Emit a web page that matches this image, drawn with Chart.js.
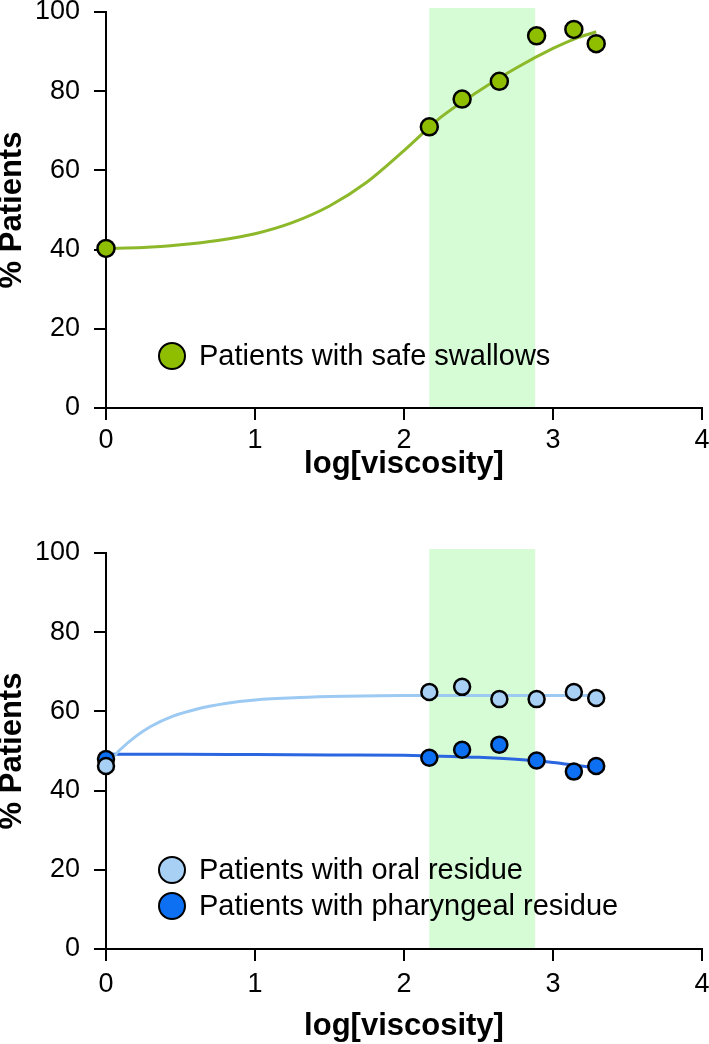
<!DOCTYPE html>
<html lang="en">
<head>
    <meta charset="UTF-8">
    <title>Safe swallows and residue vs viscosity</title>
    <script src="https://cdn.jsdelivr.net/npm/chart.js"></script>
    <style>
        body { margin: 0; background: #fff; }
        .chart-box { position: absolute; left: 0; width: 709px; }
        #top { top: 0; height: 500px; }
        #bottom { top: 500px; height: 544px; }
    </style>
</head>
<body>
    <div class="chart-box" id="top"><canvas id="safeChart" width="709" height="500"></canvas></div>
    <div class="chart-box" id="bottom"><canvas id="residueChart" width="709" height="544"></canvas></div>

    <script>
        // measured viscosities (log) shared by both panels
        const viscosity = [0, 2.17, 2.39, 2.64, 2.89, 3.14, 3.29];

        // top panel
        const safeSwallows = [40.3, 71, 78, 82.5, 94, 95.6, 92];
        const safeCurveX = [0, 0.25, 0.5, 0.75, 1, 1.25, 1.5, 1.75, 2, 2.25, 2.5, 2.75, 3, 3.15, 3.29];
        const safeCurveY = [40.3, 40.5, 41.2, 42.3, 44, 46.8, 51, 57, 65, 73.5, 80, 85.8, 90.8, 93.3, 95];

        // bottom panel
        const oralResidue = [46.2, 64.9, 66.2, 63.1, 63.1, 64.9, 63.4];
        const pharResidue = [48, 48.3, 50.3, 51.6, 47.6, 44.8, 46.2];
        const oralCurveX = [0, 0.1, 0.2, 0.3, 0.45, 0.6, 0.8, 1, 1.3, 1.6, 2, 2.5, 3, 3.29];
        const oralCurveY = [46.5, 50.5, 53.7, 56.2, 58.8, 60.5, 62, 62.9, 63.5, 63.8, 64, 64, 64, 64];
        const pharCurveX = [0, 0.5, 1, 1.5, 2, 2.25, 2.5, 2.75, 3, 3.15, 3.29];
        const pharCurveY = [49.2, 49.2, 49.1, 49, 48.9, 48.7, 48.4, 47.9, 47.1, 46.4, 45.7];

        // shaded viscosity range
        const bandRange = [2.17, 2.88];

        const xTicks = [0, 1, 2, 3, 4];
        const yTicks = [0, 20, 40, 60, 80, 100];

        const FONT = "'Liberation Sans', Arial, sans-serif";
        const GREEN = '#8fbe00', GREEN_LINE = '#8cb82a';
        const LIGHT = '#a8d0f5', LIGHT_LINE = '#9ccaf2';
        const DARK = '#0d6ff2', DARK_LINE = '#2a66e0';

        function pts(xs, ys) {
            return xs.map((x, i) => ({ x: x, y: ys[i] }));
        }

        const bandPlugin = {
            id: 'band',
            beforeDatasetsDraw(chart) {
                const { ctx, chartArea, scales } = chart;
                const x1 = scales.x.getPixelForValue(bandRange[0]);
                const x2 = scales.x.getPixelForValue(bandRange[1]);
                const top = scales.y.getPixelForValue(101);
                ctx.save();
                ctx.fillStyle = '#d6fcd6';
                ctx.fillRect(x1, top, x2 - x1, chartArea.bottom - top - 1);
                ctx.restore();
            }
        };

        const legendPlugin = {
            id: 'innerLegend',
            afterDatasetsDraw(chart, args, opts) {
                const { ctx, chartArea } = chart;
                ctx.save();
                opts.items.forEach(item => {
                    const cy = chartArea.bottom - item.dy;
                    ctx.beginPath();
                    ctx.arc(chartArea.left + 66, cy, 13, 0, Math.PI * 2);
                    ctx.fillStyle = item.color;
                    ctx.fill();
                    ctx.lineWidth = 2;
                    ctx.strokeStyle = '#000';
                    ctx.stroke();
                    ctx.fillStyle = '#000';
                    ctx.font = '29px ' + FONT;
                    ctx.textBaseline = 'middle';
                    ctx.fillText(item.text, chartArea.left + 93, cy + 1);
                });
                ctx.restore();
            }
        };

        function makeOptions(padTop, xHeight, labelPad, titlePad, legendItems) {
            return {
                responsive: false,
                animation: false,
                layout: { autoPadding: false, padding: { top: padTop, right: 0, left: 0, bottom: 0 } },
                plugins: {
                    legend: { display: false },
                    tooltip: { enabled: false },
                    innerLegend: { items: legendItems }
                },
                scales: {
                    x: {
                        type: 'linear',
                        min: 0, max: 4,
                        afterBuildTicks: s => { s.ticks = xTicks.map(v => ({ value: v })); },
                        afterFit: s => { s.height = xHeight; s.paddingRight = 7; },
                        ticks: { color: '#000', font: { family: FONT, size: 27 }, padding: labelPad },
                        grid: { drawOnChartArea: false, drawTicks: true, tickLength: 12, color: '#000', lineWidth: 2 },
                        border: { color: '#000', width: 2 },
                        title: {
                            display: true, text: 'log[viscosity]', color: '#000',
                            font: { family: FONT, size: 31, weight: 'bold', lineHeight: 1 },
                            padding: { top: 0, bottom: titlePad }
                        }
                    },
                    y: {
                        min: 0, max: 100,
                        afterBuildTicks: s => { s.ticks = yTicks.map(v => ({ value: v })); },
                        afterFit: s => { s.width = 106; s.paddingTop = 0; s.paddingBottom = 0; },
                        ticks: { color: '#000', font: { family: FONT, size: 27 }, padding: 14 },
                        grid: { drawOnChartArea: false, drawTicks: true, tickLength: 12, color: '#000', lineWidth: 2 },
                        border: { color: '#000', width: 2 },
                        title: {
                            display: true, text: '% Patients', color: '#000',
                            font: { family: FONT, size: 31, weight: 'bold', lineHeight: 0.8 },
                            padding: { top: 0, bottom: 0 }
                        }
                    }
                }
            };
        }

        new Chart(document.getElementById('safeChart'), {
            type: 'scatter',
            data: {
                datasets: [
                    {
                        label: 'Patients with safe swallows',
                        data: pts(viscosity, safeSwallows),
                        backgroundColor: GREEN, borderColor: '#000', borderWidth: 2.5,
                        pointRadius: 8.5, clip: false, order: 0
                    },
                    {
                        label: 'fit',
                        data: pts(safeCurveX, safeCurveY),
                        showLine: true, tension: 0.4, cubicInterpolationMode: 'monotone',
                        borderColor: GREEN_LINE, borderWidth: 3, pointRadius: 0, clip: false, order: 1
                    }
                ]
            },
            options: makeOptions(12, 92, 4, 20.5, [
                { text: 'Patients with safe swallows', color: GREEN, dy: 52 }
            ]),
            plugins: [bandPlugin, legendPlugin]
        });

        new Chart(document.getElementById('residueChart'), {
            type: 'scatter',
            data: {
                datasets: [
                    {
                        label: 'Patients with oral residue',
                        data: pts(viscosity, oralResidue),
                        backgroundColor: LIGHT, borderColor: '#000', borderWidth: 2.5,
                        pointRadius: 8, clip: false, order: 0
                    },
                    {
                        label: 'Patients with pharyngeal residue',
                        data: pts(viscosity, pharResidue),
                        backgroundColor: DARK, borderColor: '#000', borderWidth: 2.5,
                        pointRadius: 8, clip: false, order: 1
                    },
                    {
                        label: 'oral fit',
                        data: pts(oralCurveX, oralCurveY),
                        showLine: true, tension: 0.4, cubicInterpolationMode: 'monotone',
                        borderColor: LIGHT_LINE, borderWidth: 3, pointRadius: 0, clip: false, order: 2
                    },
                    {
                        label: 'pharyngeal fit',
                        data: pts(pharCurveX, pharCurveY),
                        showLine: true, tension: 0.4, cubicInterpolationMode: 'monotone',
                        borderColor: DARK_LINE, borderWidth: 3, pointRadius: 0, clip: false, order: 3
                    }
                ]
            },
            options: makeOptions(53, 95, 7, 2.5, [
                { text: 'Patients with oral residue', color: LIGHT, dy: 79 },
                { text: 'Patients with pharyngeal residue', color: DARK, dy: 43 }
            ]),
            plugins: [bandPlugin, legendPlugin]
        });
    </script>
</body>
</html>
